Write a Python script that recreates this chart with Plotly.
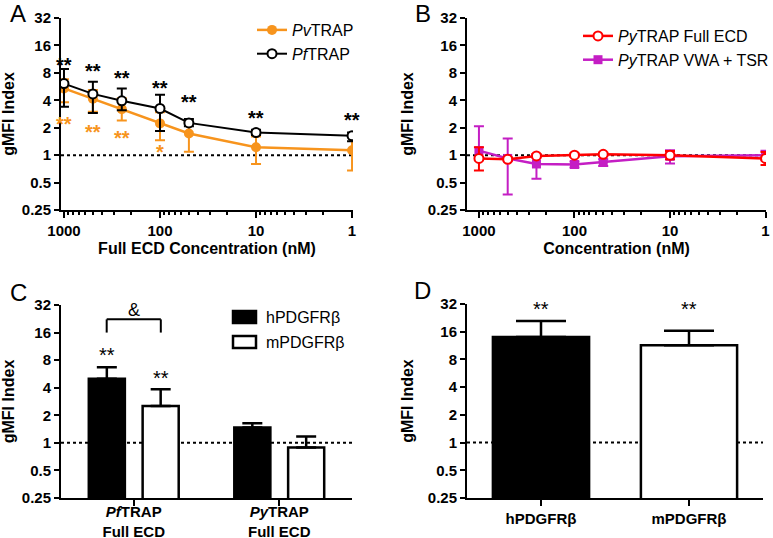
import numpy as np
import plotly.graph_objects as go

W, H = 773, 538
FONT = "Arial, Liberation Sans, sans-serif"

# ---- data ----
conc = [1000, 500, 250, 100, 50, 10, 1]

pv_mean = [5.4, 4.15, 3.2, 2.23, 1.73, 1.22, 1.13]
pv_hi = [6.8, 5.2, 4.2, 2.95, 2.3, 1.6, 1.6]
pv_lo = [3.8, 3.0, 2.4, 1.46, 1.09, 0.8, 0.68]

pf_mean = [6.1, 4.7, 3.95, 3.25, 2.26, 1.77, 1.63]
pf_hi = [8.8, 6.4, 5.4, 4.6, 2.5, 1.9, 1.77]
pf_lo = [3.4, 2.9, 3.1, 1.84, 2.08, 1.66, 1.42]

pf_stars = [11.1, 9.5, 7.95, 6.2, 4.3, 2.9, 2.75]
pv_stars = ["**", "**", "**", "*"]
pv_star_y = [2.49, 2.03, 1.75, 1.22]

py_full_mean = [0.92, 0.9, 0.98, 1.0, 1.02, 1.0, 0.92]
py_full_hi = [1.22, 0.95, 1.03, 1.04, 1.06, 1.11, 1.08]
py_full_lo = [0.68, 0.86, 0.94, 0.96, 0.98, 0.9, 0.78]

py_vwa_mean = [1.12, 0.92, 0.8, 0.79, 0.84, 0.97, 1.0]
py_vwa_hi = [2.08, 1.52, 1.0, 0.85, 0.9, 1.13, 1.12]
py_vwa_lo = [0.95, 0.37, 0.55, 0.73, 0.76, 0.81, 0.88]

c_groups = ["PfTRAP Full ECD", "PyTRAP Full ECD"]
c_labels = ["<i>Pf</i>TRAP<br>Full ECD", "<i>Py</i>TRAP<br>Full ECD"]
c_h = [5.0, 1.47]
c_h_hi = [6.7, 1.64]
c_m = [2.53, 0.89]
c_m_hi = [3.85, 1.17]
c_star_y = [10.3, 5.8]
c_bracket = [22.3, 16.0]

d_cats = ["hPDGFRβ", "mPDGFRβ"]
d_vals = [14.0, 11.4]
d_hi = [20.9, 16.4]
d_star_y = 32

yticks = [0.25, 0.5, 1, 2, 4, 8, 16, 32]
yticktext = ["0.25", "0.5", "1", "2", "4", "8", "16", "32"]

ORANGE = "#F7941D"
MAGENTA = "#C41EC4"
RED = "#FF0000"


def px(x):
    return x / W


def py(y):
    return 1 - y / H


def minor_vals():
    return [m * 10 ** d for d in range(0, 3) for m in range(2, 10)]


def errs(mean, hi, lo):
    return dict(type="data", symmetric=False,
                array=list(np.array(hi) - np.array(mean)),
                arrayminus=list(np.array(mean) - np.array(lo)))


fig = go.Figure()

# ---- A ----
fig.add_trace(go.Scatter(
    x=conc, y=pv_mean, name="<i>Pv</i>TRAP", mode="lines+markers",
    line=dict(color=ORANGE, width=2.5), marker=dict(size=10, color=ORANGE),
    error_y=dict(errs(pv_mean, pv_hi, pv_lo), color=ORANGE, thickness=2, width=5),
    xaxis="x", yaxis="y", legend="legend"))
fig.add_trace(go.Scatter(
    x=conc, y=pf_mean, name="<i>Pf</i>TRAP", mode="lines+markers",
    line=dict(color="black", width=2),
    marker=dict(size=9, color="white", line=dict(color="black", width=2)),
    error_y=dict(errs(pf_mean, pf_hi, pf_lo), color="black", thickness=2, width=5),
    xaxis="x", yaxis="y", legend="legend"))

# ---- B ----
fig.add_trace(go.Scatter(
    x=conc, y=py_vwa_mean, name="<i>Py</i>TRAP VWA + TSR", mode="lines+markers",
    line=dict(color=MAGENTA, width=2.5),
    marker=dict(size=9, symbol="square", color=MAGENTA),
    error_y=dict(errs(py_vwa_mean, py_vwa_hi, py_vwa_lo), color=MAGENTA, thickness=2, width=5),
    xaxis="x2", yaxis="y2", legend="legend2"))
fig.add_trace(go.Scatter(
    x=conc, y=py_full_mean, name="<i>Py</i>TRAP Full ECD", mode="lines+markers",
    line=dict(color=RED, width=2.5),
    marker=dict(size=9, color="white", line=dict(color=RED, width=2)),
    error_y=dict(errs(py_full_mean, py_full_hi, py_full_lo), color=RED, thickness=2, width=5),
    xaxis="x2", yaxis="y2", legend="legend2"))

# ---- C ----
fig.add_trace(go.Bar(
    x=c_groups, y=c_h, name="hPDGFRβ",
    marker=dict(color="black", line=dict(color="black", width=2.5)),
    error_y=dict(type="data", symmetric=False, array=list(np.array(c_h_hi) - np.array(c_h)),
                 arrayminus=[0, 0], color="black", thickness=2.5, width=10),
    xaxis="x3", yaxis="y3", showlegend=False))
fig.add_trace(go.Bar(
    x=c_groups, y=c_m, name="mPDGFRβ",
    marker=dict(color="white", line=dict(color="black", width=2.5)),
    error_y=dict(type="data", symmetric=False, array=list(np.array(c_m_hi) - np.array(c_m)),
                 arrayminus=[0, 0], color="black", thickness=2.5, width=10),
    xaxis="x3", yaxis="y3", showlegend=False))

# ---- D ----
fig.add_trace(go.Bar(
    x=d_cats, y=d_vals, width=0.65,
    marker=dict(color=["black", "white"], line=dict(color="black", width=2.5)),
    error_y=dict(type="data", symmetric=False, array=list(np.array(d_hi) - np.array(d_vals)),
                 arrayminus=[0, 0], color="black", thickness=2.5, width=25),
    xaxis="x4", yaxis="y4", showlegend=False))

tickfont = dict(family=FONT, size=15, color="black", weight="bold")
titlefont = dict(family=FONT, size=16, color="black", weight="bold")


def yax(dom, anchor):
    return dict(domain=dom, anchor=anchor, type="log", range=[np.log10(0.25), np.log10(32)],
                tickvals=yticks, ticktext=yticktext, tickfont=tickfont, automargin=False,
                showline=True, linecolor="black", linewidth=2, ticks="outside",
                ticklen=5, tickwidth=2, tickcolor="black", showgrid=False, zeroline=False,
                title=dict(text="gMFI Index", font=titlefont, standoff=10))


def xlog(dom, anchor, rng, title):
    return dict(domain=dom, anchor=anchor, type="log", range=rng, automargin=False,
                tickvals=[1000, 100, 10, 1], ticktext=["1000", "100", "10", "1"],
                tickfont=tickfont, showline=True, linecolor="black", linewidth=2,
                ticks="outside", ticklen=6, tickwidth=2, tickcolor="black",
                minor=dict(tickvals=minor_vals(), ticks="outside", ticklen=3,
                           tickwidth=1.5, tickcolor="black"),
                showgrid=False, zeroline=False,
                title=dict(text=title, font=titlefont, standoff=5))


def xcat(dom, anchor, vals, texts, standoff=0):
    return dict(domain=dom, anchor=anchor, type="category", range=[-0.5, 1.5], automargin=False,
                tickvals=vals, ticktext=texts, tickfont=tickfont, ticklabelstandoff=standoff,
                showline=True, linecolor="black", linewidth=2, ticks="outside",
                ticklen=6, tickwidth=2, tickcolor="black", showgrid=False, zeroline=False)


legfont = dict(family=FONT, size=16, color="black")
fig.update_layout(
    template="none",
    width=W, height=H, margin=dict(l=0, r=0, t=0, b=0, autoexpand=False),
    paper_bgcolor="white", plot_bgcolor="white",
    font=dict(family=FONT, color="black"),
    barmode="group", bargap=0.26, bargroupgap=0.33,
    xaxis=xlog([px(61), px(353)], "y", [3.031, -0.01], "Full ECD Concentration (nM)"),
    yaxis=yax([py(210), py(18)], "x"),
    xaxis2=xlog([px(467), px(766)], "y2", [3.125, -0.005], "Concentration (nM)"),
    yaxis2=yax([py(210), py(18)], "x2"),
    xaxis3=xcat([px(61), px(352)], "y3", c_groups, c_labels, standoff=-7),
    yaxis3=yax([py(498), py(305)], "x3"),
    xaxis4=xcat([px(467), px(763)], "y4", d_cats, d_cats),
    yaxis4=yax([py(498), py(304)], "x4"),
    legend=dict(x=px(252), y=py(13), xanchor="left", yanchor="top",
                font=legfont, bgcolor="rgba(0,0,0,0)", borderwidth=0),
    legend2=dict(x=px(578), y=py(19), xanchor="left", yanchor="top",
                 font=legfont, bgcolor="rgba(0,0,0,0)", borderwidth=0,
                 traceorder="reversed"),
)

# dotted reference lines at 1
for xr, yr in [("x", "y"), ("x2", "y2"), ("x3", "y3"), ("x4", "y4")]:
    fig.add_shape(type="line", xref=f"{xr} domain", yref=yr, x0=0, x1=1, y0=1, y1=1,
                  line=dict(color="black", width=2, dash="dot"), layer="below")

star_font = dict(family=FONT, size=20, color="black", weight="bold")
# A stars
for x, y in zip(conc, pf_stars):
    fig.add_annotation(x=np.log10(x), y=np.log10(y), xref="x", yref="y", text="**",
                       showarrow=False, font=star_font, yshift=-5)
for x, t, y in zip(conc, pv_stars, pv_star_y):
    fig.add_annotation(x=np.log10(x), y=np.log10(y), xref="x", yref="y", text=t,
                       showarrow=False, font=dict(star_font, color=ORANGE), yshift=-5)

# C stars + bracket
c_star_font = dict(family=FONT, size=20, color="black")
for i, y in enumerate(c_star_y):
    fig.add_annotation(x=-0.186 + 0.372 * i, y=np.log10(y), xref="x3", yref="y3", text="**",
                       showarrow=False, font=c_star_font, yshift=-5)
yb_top, yb_bot = c_bracket
for x0, y0, x1, y1 in [(-0.186, yb_bot, -0.186, yb_top), (-0.186, yb_top, 0.186, yb_top),
                       (0.186, yb_top, 0.186, yb_bot)]:
    fig.add_shape(type="line", xref="x3", yref="y3", x0=x0, y0=y0, x1=x1, y1=y1,
                  line=dict(color="black", width=2))
fig.add_annotation(x=0, y=np.log10(yb_top), xref="x3", yref="y3", text="&",
                   showarrow=False, font=dict(family=FONT, size=18, color="black"),
                   yanchor="middle", yshift=9)

# C legend (manual keys)
for i, (name, fill) in enumerate([("hPDGFRβ", "black"), ("mPDGFRβ", "white")]):
    yc = 317 + 25 * i
    fig.add_shape(type="rect", xref="paper", yref="paper", x0=px(233), x1=px(256),
                  y0=py(yc - 6), y1=py(yc + 6), fillcolor=fill,
                  line=dict(color="black", width=2.5))
    fig.add_annotation(x=px(264), y=py(yc), xref="paper", yref="paper", text=name,
                       showarrow=False, xanchor="left", yanchor="middle", font=legfont)

# D stars
for c in d_cats:
    fig.add_annotation(x=c, y=np.log10(d_star_y), xref="x4", yref="y4", text="**",
                       showarrow=False, font=c_star_font, yshift=-5)

# panel letters
for letter, x, y in [("A", 18, 14), ("B", 423, 14), ("C", 18, 292), ("D", 423, 290)]:
    fig.add_annotation(x=px(x), y=py(y), xref="paper", yref="paper", text=letter,
                       showarrow=False, xanchor="center", yanchor="middle",
                       font=dict(family=FONT, size=24, color="black"))

fig.write_html("out.html", config={"displayModeBar": False},
               post_script="document.body.style.margin='0px';")
